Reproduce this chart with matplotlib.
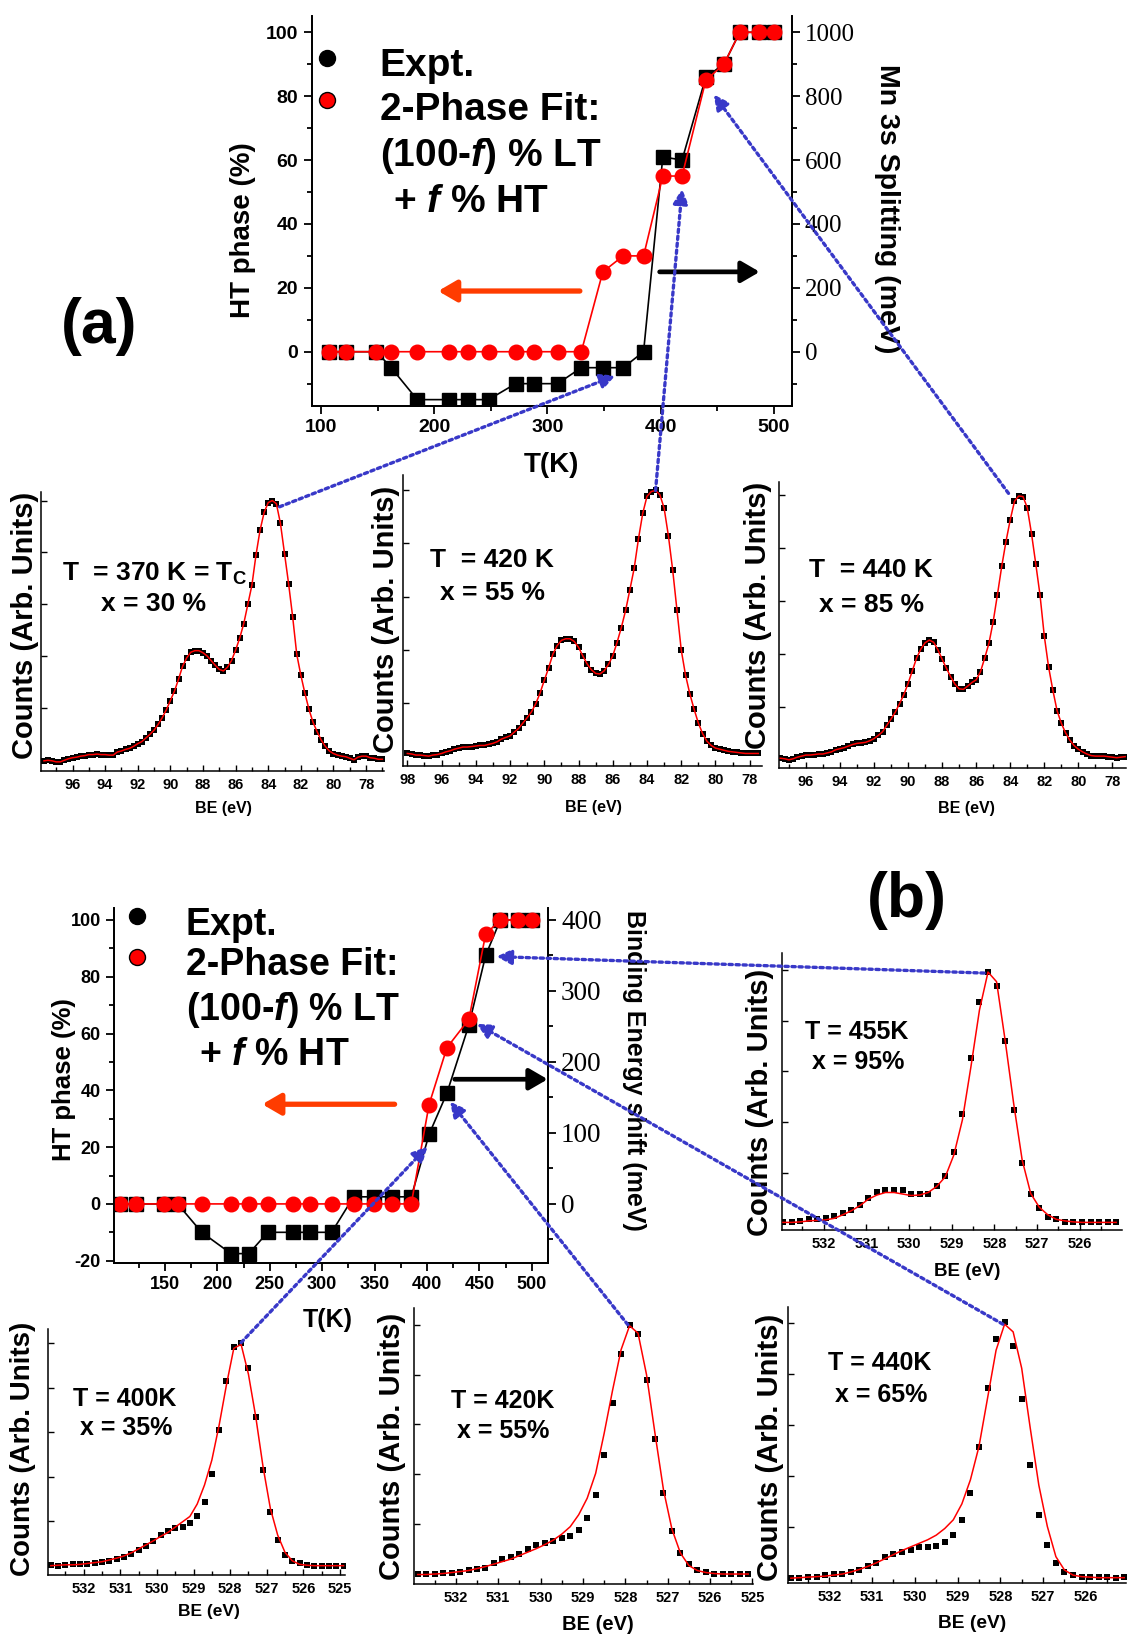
import numpy as np
import matplotlib
matplotlib.use("Agg")
import matplotlib.pyplot as plt
from matplotlib.patches import ConnectionPatch
from matplotlib.lines import Line2D
from matplotlib.ticker import MultipleLocator

W, H = 1127, 1639

plt.rcParams['font.family'] = ['Liberation Sans', 'DejaVu Sans']
plt.rcParams['font.weight'] = 'bold'
plt.rcParams['mathtext.fontset'] = 'custom'
plt.rcParams['mathtext.rm'] = 'Liberation Sans:bold'
plt.rcParams['mathtext.it'] = 'Liberation Sans:italic:bold'
plt.rcParams['mathtext.bf'] = 'Liberation Sans:bold'
plt.rcParams['axes.linewidth'] = 1.3
plt.rcParams['axes.unicode_minus'] = False

# temperature scans (same T grid in both panels)
T_K = [107, 122, 149, 162, 185, 213, 230, 248, 272, 288, 309,
       330, 349, 367, 385, 402, 419, 440, 456, 470, 487, 500]
ht_a = [0, 0, 0, 0, 0, 0, 0, 0, 0, 0, 0,
        0, 25, 30, 30, 55, 55, 85, 90, 100, 100, 100]
mn3s_split = [0, 0, 0, -50, -150, -150, -150, -150, -100, -100, -100,
              -50, -50, -50, 0, 610, 600, 860, 900, 1000, 1000, 1000]
ht_b = [0, 0, 0, 0, 0, 0, 0, 0, 0, 0, 0,
        0, 0, 0, 0, 35, 55, 65, 95, 100, 100, 100]
be_shift = [0, 0, 0, 0, -40, -70, -70, -40, -40, -40, -40,
            10, 10, 10, 10, 98, 156, 252, 350, 400, 400, 400]

# Mn 3s spectra, 0.25 eV steps (start BE given below)
mn_370 = [-0.01, 0.00, -0.01, -0.03, -0.03, 0.00, 0.03, 0.05, 0.06, 0.08,
          0.09, 0.11, 0.11, 0.12, 0.11, 0.11, 0.10, 0.10, 0.16, 0.18,
          0.21, 0.23, 0.27, 0.32, 0.36, 0.43, 0.50, 0.58, 0.69, 0.82,
          0.97, 1.15, 1.33, 1.56, 1.81, 1.97, 2.08, 2.11, 2.11, 2.07,
          2.01, 1.92, 1.83, 1.75, 1.72, 1.79, 1.92, 2.12, 2.35, 2.63,
          3.00, 3.37, 3.95, 4.43, 4.77, 4.96, 5.00, 4.94, 4.56, 3.98,
          3.40, 2.76, 2.04, 1.64, 1.29, 0.98, 0.73, 0.55, 0.39, 0.27,
          0.18, 0.13, 0.10, 0.08, 0.07, 0.04, 0.01, 0.06, 0.08, 0.08,
          0.05, 0.04, 0.02, 0.02]
mn_420 = [0.06, 0.05, 0.03, 0.03, 0.02, 0.01, 0.03, 0.04, 0.06, 0.09,
          0.11, 0.14, 0.16, 0.18, 0.18, 0.19, 0.20, 0.21, 0.21, 0.23,
          0.25, 0.28, 0.33, 0.36, 0.39, 0.46, 0.53, 0.63, 0.73, 0.84,
          0.99, 1.19, 1.43, 1.66, 1.92, 2.08, 2.18, 2.21, 2.21, 2.16,
          2.05, 1.89, 1.74, 1.63, 1.56, 1.55, 1.61, 1.73, 1.89, 2.14,
          2.42, 2.74, 3.13, 3.53, 4.08, 4.56, 4.88, 4.97, 4.99, 4.91,
          4.66, 4.14, 3.50, 2.75, 2.00, 1.53, 1.18, 0.89, 0.63, 0.43,
          0.29, 0.21, 0.16, 0.14, 0.12, 0.10, 0.09, 0.08, 0.07, 0.06,
          0.06, 0.06, 0.06]
mn_440 = [0.04, 0.03, 0.01, 0.03, 0.06, 0.08, 0.10, 0.10, 0.11, 0.12,
          0.12, 0.14, 0.16, 0.20, 0.22, 0.24, 0.27, 0.30, 0.32, 0.33,
          0.34, 0.37, 0.41, 0.47, 0.54, 0.66, 0.78, 0.91, 1.07, 1.24,
          1.45, 1.69, 1.93, 2.10, 2.22, 2.27, 2.23, 2.09, 1.91, 1.74,
          1.58, 1.44, 1.35, 1.34, 1.40, 1.47, 1.52, 1.67, 1.93, 2.21,
          2.62, 3.13, 3.66, 4.13, 4.54, 4.89, 4.99, 4.98, 4.77, 4.28,
          3.71, 3.12, 2.35, 1.77, 1.33, 0.94, 0.70, 0.52, 0.38, 0.28,
          0.21, 0.16, 0.12, 0.09, 0.08, 0.08, 0.08, 0.07, 0.06, 0.05,
          0.06, 0.07]

# O 1s spectra, 0.2 eV steps: data and fit
o_455 = [0.03, 0.03, 0.05, 0.08, 0.09, 0.11, 0.15, 0.20, 0.27, 0.36,
         0.50, 0.61, 0.66, 0.66, 0.65, 0.58, 0.58, 0.59, 0.73, 0.94,
         1.40, 2.16, 3.27, 4.37, 4.97, 4.69, 3.60, 2.24, 1.19, 0.58,
         0.30, 0.13, 0.08, 0.03, 0.03, 0.03, 0.03, 0.02, 0.02, 0.03]
o_455_fit = [0.02, 0.02, 0.03, 0.05, 0.06, 0.07, 0.10, 0.17, 0.25, 0.35,
             0.48, 0.56, 0.61, 0.61, 0.58, 0.55, 0.56, 0.61, 0.73, 0.92,
             1.35, 2.04, 3.09, 4.21, 4.96, 4.77, 3.62, 2.37, 1.25, 0.59,
             0.32, 0.17, 0.08, 0.05, 0.03, 0.02, 0.02, 0.02, 0.02, 0.02]
o_400 = [0.01, -0.02, 0.01, 0.02, 0.02, 0.03, 0.04, 0.07, 0.10, 0.13,
         0.18, 0.25, 0.34, 0.43, 0.55, 0.68, 0.78, 0.83, 0.87, 0.95,
         1.10, 1.43, 2.06, 3.05, 4.16, 4.93, 5.02, 4.44, 3.34, 2.15,
         1.19, 0.57, 0.23, 0.10, 0.04, 0.00, -0.01, -0.01, -0.02, -0.01,
         -0.01]
o_400_fit = [-0.01, 0.00, 0.01, 0.01, 0.02, 0.04, 0.06, 0.08, 0.12, 0.16,
             0.21, 0.28, 0.37, 0.46, 0.55, 0.65, 0.74, 0.86, 0.98, 1.10,
             1.38, 1.81, 2.37, 3.16, 4.07, 4.89, 4.98, 4.31, 3.35, 2.22,
             1.28, 0.68, 0.29, 0.10, 0.02, 0.00, -0.01, -0.01, -0.01, -0.01,
             -0.01]
o_420 = [0.00, 0.00, 0.00, 0.03, 0.03, 0.05, 0.09, 0.11, 0.13, 0.22,
         0.30, 0.35, 0.40, 0.50, 0.58, 0.62, 0.67, 0.73, 0.77, 0.88,
         1.13, 1.59, 2.38, 3.43, 4.42, 5.00, 4.82, 3.89, 2.71, 1.63,
         0.87, 0.42, 0.20, 0.09, 0.05, 0.00, 0.00, 0.00, 0.01, 0.00]
o_420_fit = [-0.01, -0.01, 0.00, 0.01, 0.03, 0.05, 0.07, 0.11, 0.15, 0.20,
             0.25, 0.30, 0.37, 0.44, 0.51, 0.59, 0.68, 0.80, 0.95, 1.19,
             1.52, 2.02, 2.82, 3.69, 4.50, 4.98, 4.83, 4.00, 2.82, 1.69,
             0.90, 0.42, 0.17, 0.07, 0.03, 0.01, 0.00, 0.00, 0.00, 0.00]
o_440 = [0.02, 0.02, 0.04, 0.04, 0.07, 0.09, 0.09, 0.13, 0.17, 0.24,
         0.31, 0.43, 0.48, 0.53, 0.57, 0.61, 0.61, 0.64, 0.71, 0.86,
         1.15, 1.68, 2.57, 3.72, 4.69, 5.02, 4.54, 3.50, 2.22, 1.24,
         0.65, 0.31, 0.14, 0.07, 0.04, 0.04, 0.04, 0.03, 0.01, 0.03]
o_440_fit = [0.01, 0.02, 0.03, 0.04, 0.05, 0.07, 0.09, 0.13, 0.18, 0.24,
             0.31, 0.39, 0.47, 0.55, 0.62, 0.69, 0.76, 0.85, 0.98, 1.15,
             1.46, 1.93, 2.58, 3.52, 4.46, 4.97, 4.82, 4.11, 2.94, 1.83,
             1.02, 0.43, 0.17, 0.07, 0.04, 0.03, 0.02, 0.02, 0.02, 0.02]

RED = '#ff0000'
ORANGE = '#ff3c00'
BLUE = '#3838c8'

fig = plt.figure(figsize=(W / 100, H / 100), dpi=100)


def place(l, t, r, b):
    return fig.add_axes([l / W, 1 - b / H, (r - l) / W, (b - t) / H])


def ftext(x, y, s, **kw):
    kw.setdefault('ha', 'center')
    kw.setdefault('va', 'center')
    return fig.text(x / W, 1 - y / H, s, **kw)


def main_panel(box, ht, other, xlim, ylim, ratio, xmaj, xmin, yticks, rticks, rmin,
               lsize, rsize):
    ax = place(*box)
    ax2 = ax.twinx()
    ax.set_zorder(ax2.get_zorder() + 1)
    ax.patch.set_visible(False)
    ax2.plot(T_K, other, 's-', color='black', ms=9.5, lw=1.2)
    ax.plot(T_K, ht, 'o-', color=RED, ms=10.5, lw=1.2)
    ax.set_xlim(*xlim)
    ax.set_ylim(*ylim)
    ax2.set_ylim(ylim[0] * ratio, ylim[1] * ratio)
    for a in (ax, ax2):
        a.spines['top'].set_visible(False)
    ax.xaxis.set_major_locator(MultipleLocator(xmaj))
    ax.xaxis.set_minor_locator(MultipleLocator(xmin))
    ax.set_yticks(yticks)
    ax.yaxis.set_minor_locator(MultipleLocator(10))
    ax.tick_params(which='both', direction='out', width=1.3, labelsize=lsize)
    ax.tick_params(which='major', length=6)
    ax.tick_params(which='minor', length=3.5)
    ax2.set_yticks(rticks)
    ax2.set_yticklabels([str(v) for v in rticks], fontfamily='Liberation Serif',
                        fontweight='normal', fontsize=rsize)
    ax2.yaxis.set_minor_locator(MultipleLocator(rmin))
    ax2.tick_params(which='both', direction='out', width=1.3)
    ax2.tick_params(which='major', length=6)
    ax2.tick_params(which='minor', length=3.5)
    return ax, ax2


def spectrum(box, be0, step, cnt, fit, xlim, ylim, xmaj, xmin, ms):
    ax = place(*box)
    be = be0 - step * np.arange(len(cnt))
    ax.plot(be, cnt, 's', color='black', ms=ms, mew=0, zorder=2)
    ax.plot(be0 - step * np.arange(len(fit)), fit, '-', color=RED, lw=1.1, zorder=3)
    ax.set_xlim(*xlim)
    ax.set_ylim(*ylim)
    ax.spines[['top', 'right']].set_visible(False)
    ax.spines[['left', 'bottom']].set_linewidth(1.1)
    ax.set_yticks([1, 2, 3, 4, 5])
    ax.set_yticklabels([])
    ax.xaxis.set_major_locator(MultipleLocator(xmaj))
    ax.xaxis.set_minor_locator(MultipleLocator(xmin))
    ax.xaxis.set_major_formatter('{x:.0f}')
    ax.tick_params(which='both', direction='in', width=1.0, labelsize=10.5, pad=5)
    ax.tick_params(which='major', length=4)
    ax.tick_params(which='minor', length=3)
    return ax


def arrow(ax, tail, tip, y, color, lw):
    ax.annotate('', xy=(tip, y), xytext=(tail, y),
                arrowprops=dict(arrowstyle='-|>,head_length=0.55,head_width=0.32',
                                lw=lw, color=color, mutation_scale=20,
                                shrinkA=0, shrinkB=0))


def connect(ax_from, p_from, ax_to, p_to):
    con = ConnectionPatch(xyA=p_from, coordsA=ax_from.transData,
                          xyB=p_to, coordsB=ax_to.transData,
                          arrowstyle='-|>,head_length=0.55,head_width=0.28',
                          mutation_scale=16, color=BLUE, lw=2.4,
                          linestyle=(0, (1, 1.1)), shrinkA=0, shrinkB=0, zorder=5)
    fig.add_artist(con)


def legend_block(mx, my_black, my_red, tx, ty, tx4, size):
    fig.add_artist(Line2D([mx / W], [1 - my_black / H], marker='o', ms=11.5,
                          color='black', transform=fig.transFigure))
    fig.add_artist(Line2D([mx / W], [1 - my_red / H], marker='o', ms=11.5,
                          mfc=RED, mec='black', mew=1, transform=fig.transFigure))
    lines = ['Expt.', '2-Phase Fit:', '(100-$f$) % LT', '+ $f$ % HT']
    for i, s in enumerate(lines):
        x = tx4 if i == 3 else tx
        ftext(x, ty[i], s, ha='left', va='baseline', fontsize=size)


# ---------------- panel (a) ----------------
ax_a, ax_a2 = main_panel((311.5, 16, 791.5, 405.7), ht_a, mn3s_split,
                         (91.6, 515.7), (-16.9, 105.1), 10, 100, 50,
                         list(range(0, 101, 20)), list(range(0, 1001, 200)), 100,
                         14, 18)
arrow(ax_a, 328.7, 203.5, 19.0, ORANGE, 3.8)
arrow(ax_a, 399.2, 487.6, 25.0, 'black', 3.4)
ftext(242.6, 230, 'HT phase (%)', rotation=90, fontsize=20)
ftext(886.6, 209, 'Mn 3s Splitting (meV)', rotation=-90, fontsize=20.5)
ftext(551, 465, 'T(K)', fontsize=20)
legend_block(327, 57.5, 100.4, 379.5, [75.7, 119.6, 165.6, 211.6], 393, 28)
ftext(99.3, 326, '(a)', fontsize=45)

s_a1 = spectrum((40.7, 491.7, 384, 770.7), 97.75, 0.25, mn_370, mn_370,
                (97.95, 76.9), (-0.2, 5.17), 2, 1, 4.8)
s_a2 = spectrum((402.7, 475, 761.7, 766), 98.0, 0.25, mn_420, mn_420,
                (98.27, 77.3), (-0.175, 5.28), 2, 1, 4.8)
s_a3 = spectrum((779, 481.7, 1126, 768.3), 97.5, 0.25, mn_440, mn_440,
                (97.58, 77.2), (-0.15, 5.26), 2, 1, 4.8)

for x, y in [(25, 625.5), (385.5, 619), (757.5, 615)]:
    ftext(x, y, 'Counts (Arb. Units)', rotation=90, fontsize=21)
for x, y in [(223.3, 809), (593.3, 807.7), (966, 809)]:
    ftext(x, y, 'BE (eV)', fontsize=11.5)

ftext(62, 581, 'T  = 370 K = T$_\\mathrm{C}$', ha='left', va='baseline', fontsize=19)
ftext(153.5, 604, 'x = 30 %', fontsize=19)
ftext(492, 560, 'T  = 420 K', fontsize=19)
ftext(492.5, 593, 'x = 55 %', fontsize=19)
ftext(871, 570, 'T  = 440 K', fontsize=19)
ftext(871.5, 605, 'x = 85 %', fontsize=19)

connect(s_a1, (83.3, 4.88), ax_a, (360, -7.5))
connect(s_a2, (83.5, 4.99), ax_a, (419, 51))
connect(s_a3, (84.1, 5.04), ax_a, (447, 80.5))

# ---------------- panel (b) ----------------
ax_b, ax_b2 = main_panel((113.9, 908.3, 547.9, 1262.7), ht_b, be_shift,
                         (101.2, 515.4), (-20.7, 104.1), 4, 50, 25,
                         list(range(-20, 101, 20)), list(range(0, 401, 100)), 50,
                         13, 19.5)
arrow(ax_b, 369.1, 242.8, 35.1, ORANGE, 3.8)
arrow(ax_b, 426.5, 515.2, 43.9, 'black', 3.4)
ftext(64.5, 1079.5, 'HT phase (%)', rotation=90, fontsize=18.5)
ftext(634, 1070.7, 'Binding Energy shift (meV)', rotation=-90, fontsize=18)
ftext(328, 1320, 'T(K)', fontsize=18)
legend_block(137, 916, 956.6, 186, [935, 975, 1020, 1065], 198.6, 27)
ftext(906.5, 901, '(b)', fontsize=45)

s_b455 = spectrum((781.7, 953.3, 1121.7, 1230), 532.95, 0.2, o_455, o_455_fit,
                  (532.98, 525.02), (-0.13, 5.33), 1, 0.5, 4.6)
s_b400 = spectrum((48.3, 1329.3, 345, 1575), 532.9, 0.2, o_400, o_400_fit,
                  (532.97, 524.86), (-0.22, 5.32), 1, 0.5, 4.6)
s_b420 = spectrum((414.3, 1308.3, 753.3, 1584), 532.9, 0.2, o_420, o_420_fit,
                  (532.98, 524.98), (-0.2, 5.33), 1, 0.5, 4.6)
s_b440 = spectrum((788.3, 1307.3, 1126, 1583.3), 532.9, 0.2, o_440, o_440_fit,
                  (532.96, 525.06), (-0.09, 5.30), 1, 0.5, 4.6)

ftext(760, 1102.3, 'Counts (Arb. Units)', rotation=90, fontsize=21)
ftext(23.3, 1449, 'Counts (Arb. Units)', rotation=90, fontsize=20)
ftext(392.3, 1446.7, 'Counts (Arb. Units)', rotation=90, fontsize=21)
ftext(770, 1447.3, 'Counts (Arb. Units)', rotation=90, fontsize=21)
ftext(967, 1271.3, 'BE (eV)', fontsize=13.5)
ftext(209.3, 1611.7, 'BE (eV)', fontsize=12.5)
ftext(598.3, 1625, 'BE (eV)', fontsize=14.5)
ftext(971.7, 1623.3, 'BE (eV)', fontsize=13.8)

ftext(856.5, 1031.7, 'T = 455K', fontsize=18)
ftext(858.5, 1061.7, 'x = 95%', fontsize=18)
ftext(124.7, 1399, 'T = 400K', fontsize=18)
ftext(126, 1428.3, 'x = 35%', fontsize=18)
ftext(502.3, 1400.7, 'T = 420K', fontsize=18)
ftext(503.5, 1430.7, 'x = 55%', fontsize=18)
ftext(879.3, 1363.3, 'T = 440K', fontsize=18)
ftext(880.8, 1395, 'x = 65%', fontsize=18)

connect(s_b400, (527.7, 5.02), ax_b, (400.5, 20.2))
connect(s_b420, (527.94, 5.0), ax_b, (422, 36))
connect(s_b440, (527.94, 4.97), ax_b, (447.6, 63.4))
connect(s_b455, (528.24, 4.94), ax_b, (466.4, 87.1))

fig.savefig('out.png', dpi=100)
plt.close(fig)
